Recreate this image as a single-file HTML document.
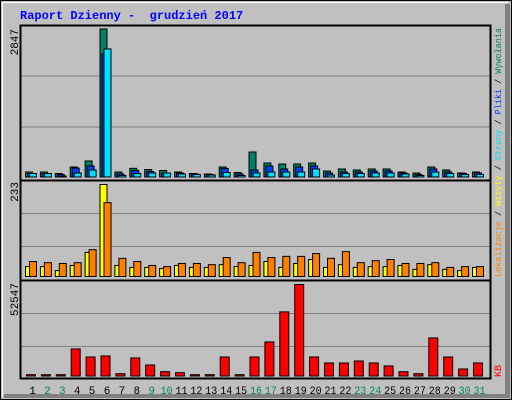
<!DOCTYPE html>
<html><head><meta charset="utf-8"><style>
html,body{margin:0;padding:0;background:#c0c0c0}
svg{display:block}
text{font-family:"Liberation Mono",monospace}
</style></head><body>
<svg id="chart" width="512" height="400" xmlns="http://www.w3.org/2000/svg">
<rect x="0" y="0" width="512" height="400" fill="#c0c0c0"/>
<rect x="505" y="4" width="5" height="394" fill="#808080"/>
<rect x="4" y="394" width="506" height="4" fill="#808080"/>
<line x1="2" y1="2.5" x2="508" y2="2.5" stroke="#fff"/>
<line x1="2.5" y1="2" x2="2.5" y2="396" stroke="#fff"/>
<rect x="0.5" y="0.5" width="511" height="399" fill="none" stroke="#000"/>
<text x="20" y="19" font-size="12" font-weight="bold" fill="#0000ff" style="white-space:pre">Raport Dzienny -&#160; grudzień 2017</text>
<g id="grid"></g>
<g id="bars"></g>
<g id="frames"></g>
<g id="labels"></g>
<text transform="translate(501,277) rotate(-90)" font-size="9.5" textLength="249" lengthAdjust="spacingAndGlyphs"><tspan fill="#ff8000">Lokalizacje</tspan><tspan fill="#000"> / </tspan><tspan fill="#ffff00">Wizyty</tspan><tspan fill="#000"> / </tspan><tspan fill="#00e0ff">Strony</tspan><tspan fill="#000"> / </tspan><tspan fill="#0040ff">Pliki</tspan><tspan fill="#000"> / </tspan><tspan fill="#008060">Wywołania</tspan></text>
<text transform="translate(501,377) rotate(-90)" font-size="10" fill="#ff0000">KB</text>
<text transform="translate(18,29) rotate(-90)" font-size="11" text-anchor="end">2847</text>
<text transform="translate(18,182) rotate(-90)" font-size="11" text-anchor="end">233</text>
<text transform="translate(18,283) rotate(-90)" font-size="11" text-anchor="end">52547</text>
</svg>
<script>
const days = [1,2,3,4,5,6,7,8,9,10,11,12,13,14,15,16,17,18,19,20,21,22,23,24,25,26,27,28,29,30,31];
const weekend = [2,3,9,10,16,17,23,24,30,31];
const hits = [96,96,67,192,308,2847,96,167,144,125,96,67,58,192,87,481,269,250,250,269,115,154,135,154,154,96,77,192,135,77,96];
const files = [67,67,48,173,212,2367,58,125,106,77,77,58,48,164,58,135,212,154,192,212,77,96,96,115,115,77,48,154,96,67,77];
const pages = [67,67,19,77,135,2463,29,67,77,77,58,48,38,87,29,77,96,96,96,154,38,67,67,77,77,58,29,96,67,48,48];
const visits = [25,25,15,28,61,233,28,23,23,20,28,23,23,30,25,28,38,23,33,43,23,30,23,25,25,28,18,30,18,15,23];
const sites = [38,35,33,35,68,187,46,38,28,25,33,33,30,48,35,61,48,51,51,58,46,63,35,40,43,33,33,35,23,25,25];
const kb = [750,750,750,15540,10930,11510,1320,10360,6330,2470,1900,750,750,10930,750,10930,19570,36830,52547,10930,7480,7480,8630,7480,5760,2470,1320,21870,10930,4030,7480];
const NS="http://www.w3.org/2000/svg";
const G=document.getElementById('grid'),B=document.getElementById('bars'),F=document.getElementById('frames'),L=document.getElementById('labels');
function mk(tag,attrs,parent){const e=document.createElementNS(NS,tag);for(const k in attrs)e.setAttribute(k,attrs[k]);parent.appendChild(e);return e;}
const panels=[{top:25,bot:180,base:177,maxY:29,max:Math.max(...hits),grid:[76,127]},
{top:180,bot:280,base:276.5,maxY:184.5,max:Math.max(...visits),grid:[213.5,246.5]},
{top:280,bot:378,base:376,maxY:284.5,max:Math.max(...kb),grid:[313.5,346.5]}];
panels.forEach((p,i)=>{
 p.grid.forEach(y=>{const l=mk('line',{x1:21,x2:490,y1:y,y2:y,stroke:'#808080'},G);
 
 });
});
function yv(p,v){return p.base-(v/p.max)*(p.base-p.maxY);}
function gx(i){return 25+i*14.9;}
function bar(p,x,w,v,fill,name){const y=yv(p,v);const r=mk('rect',{x:x+0.5,y:y,width:w-1,height:Math.max(p.base-y,1),fill:fill,stroke:'#000','stroke-width':1},B);
 
 }
days.forEach((d,i)=>{
 const x=gx(i);
 bar(panels[0],x,8,hits[i],'#008060','bar-hits-'+d);
 bar(panels[0],x+2,8,files[i],'#0040ff','bar-files-'+d);
 bar(panels[0],x+4,8,pages[i],'#00e0ff','bar-pages-'+d);
 bar(panels[1],x,8,visits[i],'#ffff00','bar-visits-'+d);
 bar(panels[1],x+4,8,sites[i],'#ff8000','bar-sites-'+d);
 bar(panels[2],x+1,10,kb[i],'#ff0000','bar-kb-'+d);
 const attrs={x:x+7.5,y:394,'font-size':11,'text-anchor':'middle',fill:weekend.includes(d)?'#008060':'#000','font-family':'Liberation Sans, sans-serif'};
 if(d>=10){attrs.textLength=12;attrs.lengthAdjust='spacingAndGlyphs';}
 const t=mk('text',attrs,L);
 t.textContent=d;
 
 
});
panels.forEach((p,i)=>{
 const r=mk('rect',{x:20.5,y:p.top+0.5,width:470,height:p.bot-p.top,fill:'none',stroke:'#000','stroke-width':2},F);
 
 
});
</script>
</body></html>
